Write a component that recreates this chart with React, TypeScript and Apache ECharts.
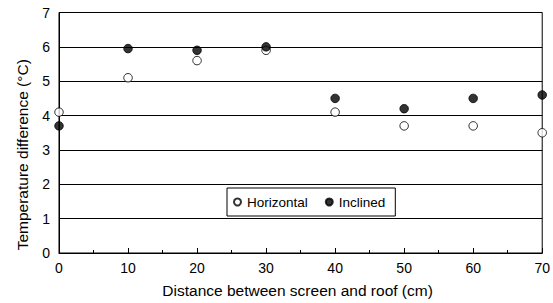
import React, { useEffect, useRef } from "react";
import * as echarts from "echarts";

const distances = [0, 10, 20, 30, 40, 50, 60, 70];
const horizontal = [4.1, 5.1, 5.6, 5.9, 4.1, 3.7, 3.7, 3.5];
const inclined = [3.7, 5.95, 5.9, 6.0, 4.5, 4.2, 4.5, 4.6];

export default function App() {
  const ref = useRef<HTMLDivElement>(null);
  useEffect(() => {
    const chart = echarts.init(ref.current!, null, { renderer: "svg" });
    const font = "Liberation Sans, Arial, sans-serif";
    chart.setOption({
      animation: false,
      backgroundColor: "#fff",
      textStyle: { fontFamily: font },
      grid: {
        left: 59,
        right: 9,
        top: 12.5,
        bottom: 49,
        show: true,
        borderColor: "#000",
        borderWidth: 1,
      },
      legend: {
        left: 227,
        top: 188,
        orient: "horizontal",
        borderColor: "#000",
        borderWidth: 1,
        padding: [7, 10, 7, 6],
        itemWidth: 7,
        itemHeight: 7,
        itemGap: 17,
        textStyle: { fontFamily: font, fontSize: 13.5, color: "#000", padding: [0, 0, 0, 1] },
        data: [
          { name: "Horizontal", icon: "circle" },
          { name: "Inclined", icon: "circle" },
        ],
      },
      xAxis: {
        type: "value",
        min: 0,
        max: 70,
        interval: 10,
        name: "Distance between screen and roof (cm)",
        nameLocation: "middle",
        nameGap: 29,
        nameTextStyle: { fontFamily: font, fontSize: 15.5, color: "#000", padding: [0, 6, 0, 0] },
        axisLine: { show: true, lineStyle: { color: "#000", width: 1 } },
        axisTick: { show: true, inside: true, length: 5, lineStyle: { color: "#000" } },
        minorTick: { show: true, splitNumber: 2, length: 3, lineStyle: { color: "#000" } },
        axisLabel: { fontFamily: font, fontSize: 14, color: "#000", margin: 8 },
        splitLine: { show: false },
      },
      yAxis: {
        type: "value",
        min: 0,
        max: 7,
        interval: 1,
        name: "Temperature difference (°C)",
        nameLocation: "middle",
        nameGap: 29,
        nameTextStyle: { fontFamily: font, fontSize: 15.5, color: "#000", padding: [0, 44, 0, 0] },
        axisLine: { show: true, lineStyle: { color: "#000", width: 1 } },
        axisTick: { show: false },
        axisLabel: { fontFamily: font, fontSize: 14, color: "#000", margin: 9 },
        splitLine: { show: true, lineStyle: { color: "#000", width: 1 } },
      },
      series: [
        {
          name: "Horizontal",
          type: "scatter",
          symbol: "circle",
          symbolSize: 8.5,
          itemStyle: { color: "#fff", borderColor: "#000", borderWidth: 1 },
          data: distances.map((d, i) => [d, horizontal[i]]),
          z: 3,
        },
        {
          name: "Inclined",
          type: "scatter",
          symbol: "circle",
          symbolSize: 8.5,
          itemStyle: { color: "#000", borderColor: "#000", borderWidth: 1 },
          data: distances.map((d, i) => [d, inclined[i]]),
          z: 4,
        },
      ],
    });
    return () => chart.dispose();
  }, []);
  return <div ref={ref} style={{ width: 553, height: 303, position: "absolute", left: 0, top: 0 }} />;
}
